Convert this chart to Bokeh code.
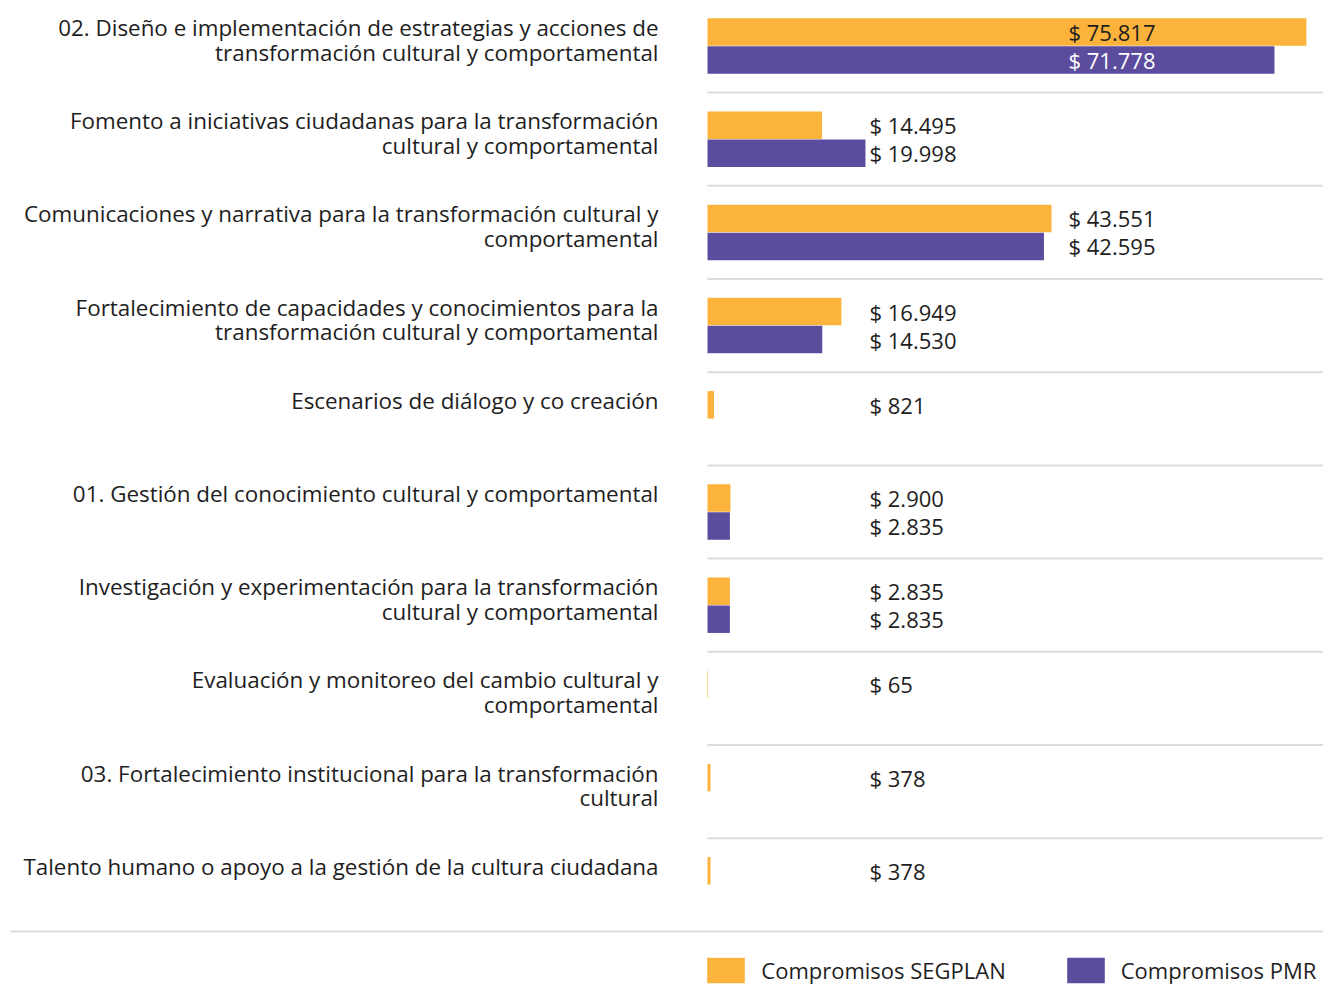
from bokeh.plotting import figure
from bokeh.models import Range1d, ColumnDataSource, Legend, LegendItem
from bokeh.core.properties import value
from bokeh.embed import file_html
from bokeh.resources import INLINE

categories = [
    "02. Diseño e implementación de estrategias y acciones de\ntransformación cultural y comportamental",
    "Fomento a iniciativas ciudadanas para la transformación\ncultural y comportamental",
    "Comunicaciones y narrativa para la transformación cultural y\ncomportamental",
    "Fortalecimiento de capacidades y conocimientos para la\ntransformación cultural y comportamental",
    "Escenarios de diálogo y co creación",
    "01. Gestión del conocimiento cultural y comportamental",
    "Investigación y experimentación para la transformación\ncultural y comportamental",
    "Evaluación y monitoreo del cambio cultural y\ncomportamental",
    "03. Fortalecimiento institucional para la transformación\ncultural",
    "Talento humano o apoyo a la gestión de la cultura ciudadana",
]
segplan = [75817, 14495, 43551, 16949, 821, 2900, 2835, 65, 378, 378]
pmr = [71778, 19998, 42595, 14530, None, 2835, 2835, None, None, None]
series_names = ["Compromisos SEGPLAN", "Compromisos PMR"]

ORANGE = "#FBB33C"
PURPLE = "#5B4C9E"
TEXT = "#1e1e1e"
FONT = "Open Sans"

W, H = 1323, 986
X0_PX = 707          # canvas px of value 0
UNITS_PER_PX = 126.6
ROW_PX = 93.2
ROW0_PX = 45.5       # canvas px of row 0 centre

n = len(categories)
rows = list(range(n))
xr = Range1d(-X0_PX * UNITS_PER_PX, (W - X0_PX) * UNITS_PER_PX)
yr = Range1d((H - ROW0_PX) / ROW_PX, -ROW0_PX / ROW_PX)

p = figure(width=W, height=H, x_range=xr, y_range=yr, output_backend="svg",
           toolbar_location=None, min_border=0, outline_line_color=None,
           background_fill_color="white", border_fill_color="white")
p.axis.visible = False
p.grid.visible = False

off = 14 / ROW_PX
bh = 27.5 / ROW_PX

def nz(v):
    return float("nan") if v is None else v

src_o = ColumnDataSource(dict(y=[r - off for r in rows], right=segplan))
src_p = ColumnDataSource(dict(y=[r + off for r in rows], right=[nz(v) for v in pmr]))
r_o = p.hbar(y="y", left=0, right="right", height=bh, source=src_o,
             fill_color=ORANGE, line_color=None)
r_p = p.hbar(y="y", left=0, right="right", height=bh, source=src_p,
             fill_color=PURPLE, line_color=None)

# separators
p.segment(x0=[0] * (n - 1), x1=[xr.end] * (n - 1),
          y0=[r + 0.5 for r in rows[:-1]], y1=[r + 0.5 for r in rows[:-1]],
          line_color="#dcdcdc", line_width=2)
p.segment(x0=[xr.start + 10 * UNITS_PER_PX], x1=[xr.end], y0=[n - 0.5], y1=[n - 0.5],
          line_color="#dcdcdc", line_width=2)

# category labels
p.text(x=[0] * n, y=[r - 34 / ROW_PX for r in rows], text=categories,
       x_offset=-49, text_align="right", text_baseline="top",
       text_font=value(FONT), text_font_size="22.4px", text_color=TEXT,
       text_line_height=0.8)

def fmt(v):
    return "$ " + f"{v:,}".replace(",", ".")

def lab_x(i):
    m = max(v for v in (segplan[i], pmr[i]) if v is not None)
    return (361 if m > 30000 else 162) * UNITS_PER_PX

lx, ly, lt, lc = [], [], [], []
for i in rows:
    for v, o in ((segplan[i], -off), (pmr[i], off)):
        if v is None:
            continue
        x = lab_x(i)
        lx.append(x); ly.append(i + o); lt.append(fmt(v))
        lc.append("white" if (v >= x and o > 0) else TEXT)
p.text(x=lx, y=ly, text=lt, text_color=lc, text_align="left", text_baseline="middle",
       text_font=value(FONT), text_font_size="22px")

legend = Legend(items=[LegendItem(label=series_names[0], renderers=[r_o]),
                       LegendItem(label=series_names[1], renderers=[r_p])],
                orientation="horizontal", location=(X0_PX - 4.7, 0),
                glyph_width=47, glyph_height=32, label_height=32,
                label_standoff=12, spacing=56, padding=0, margin=0,
                border_line_color=None, background_fill_alpha=0,
                label_text_font=FONT, label_text_font_size="22px",
                label_text_color=TEXT)
p.add_layout(legend)

open("out.html", "w").write(file_html(p, INLINE))
